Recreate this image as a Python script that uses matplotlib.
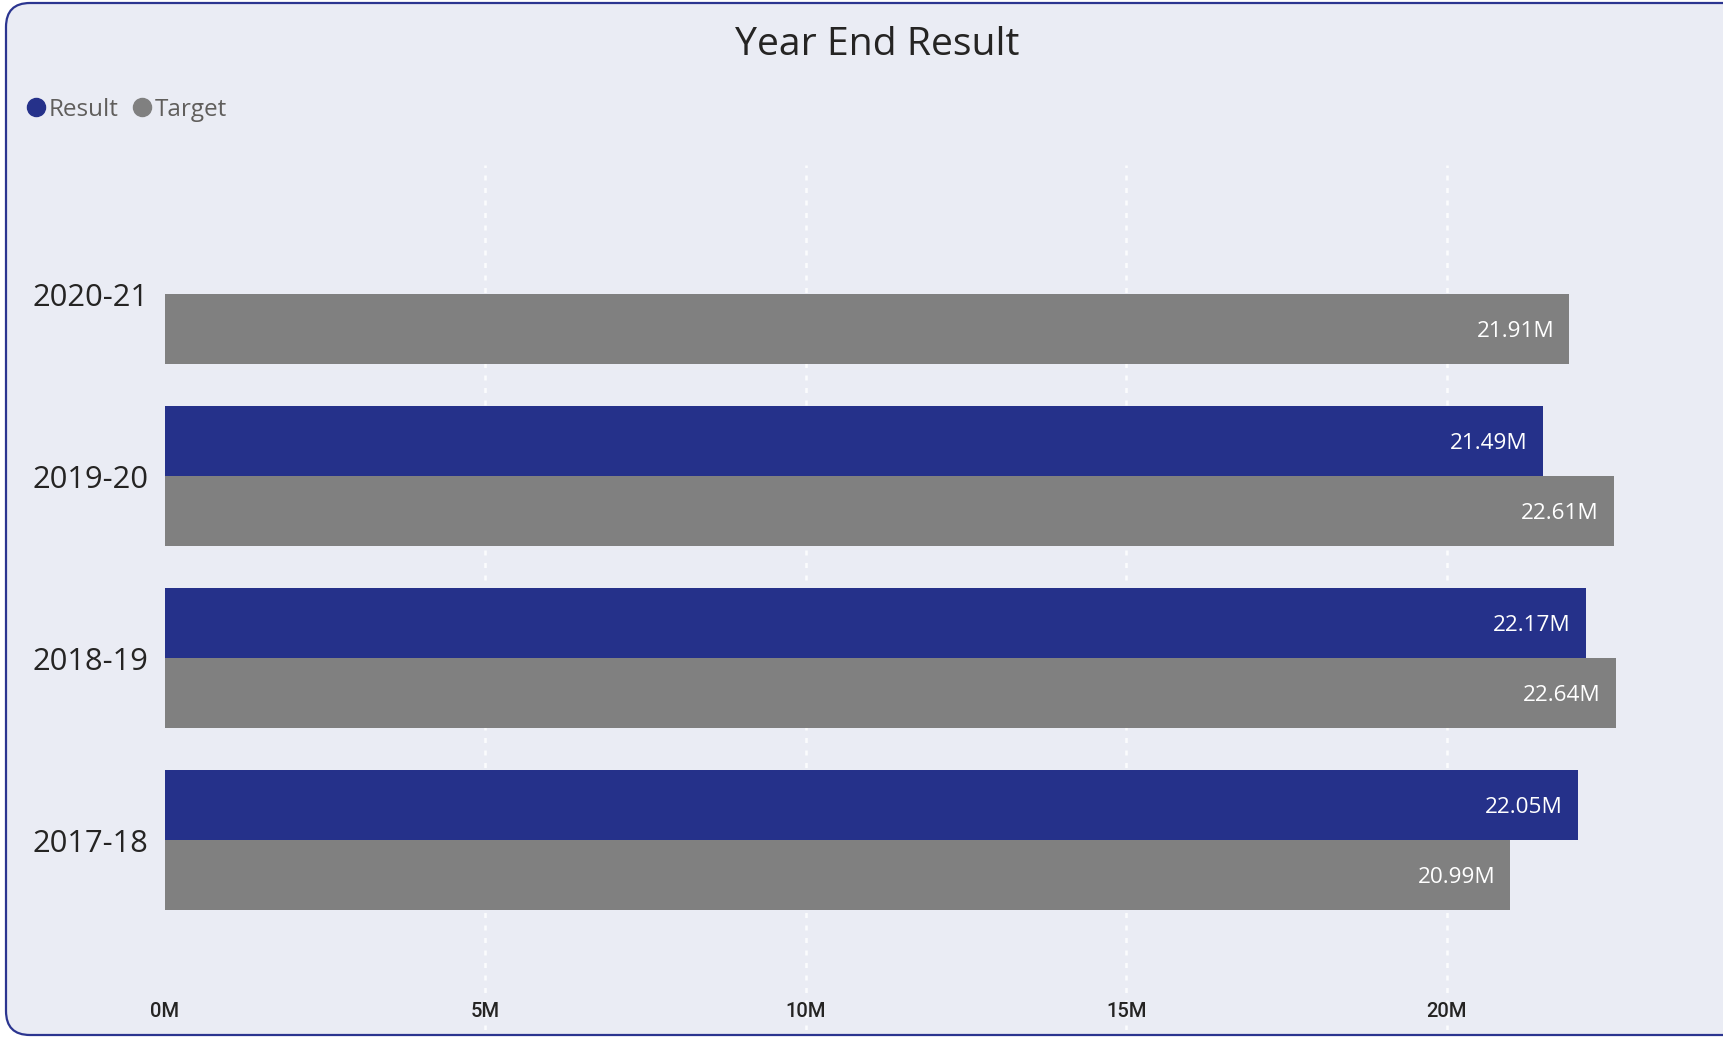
import matplotlib.pyplot as plt
import numpy as np
from matplotlib.patches import FancyBboxPatch
from matplotlib.lines import Line2D
from matplotlib.transforms import IdentityTransform

# data (millions)
years = ['2017-18', '2018-19', '2019-20', '2020-21']
result = [22.05, 22.17, 21.49, np.nan]
target = [20.99, 22.64, 22.61, 21.91]
xticks = [0, 5, 10, 15, 20]
xtick_labels = ['0M', '5M', '10M', '15M', '20M']

navy = '#25318A'
grey = '#808080'
bg = '#EAECF4'
dark = '#252423'

W, H = 1724, 1038
fig = plt.figure(figsize=(W / 100, H / 100), dpi=100, facecolor='white')

# card background with rounded border (right side runs off the image)
card = FancyBboxPatch((6, 3), 1780, 1032, boxstyle='round,pad=0,rounding_size=24',
                      transform=IdentityTransform(), facecolor=bg, edgecolor='#2B3590',
                      linewidth=1.6, zorder=-5)
fig.patches.append(card)

# axes placement in pixels
left, right, top, bottom = 165, 1724, 165, 1030
px_per_m = (1447 - 165) / 20
ax = fig.add_axes([left / W, 1 - bottom / H, (right - left) / W, (bottom - top) / H])
ax.set_zorder(2)
ax.set_facecolor('none')
ax.set_xlim(0, (right - left) / px_per_m)
ax.set_ylim(-(bottom - 840) / 182, 3 + (294 - top) / 182)

y = np.arange(len(years))
h = 0.384
ax.barh(y + h / 2, result, height=h, color=navy, zorder=3)
ax.barh(y - h / 2, target, height=h, color=grey, zorder=3)

label_font = dict(family='Open Sans', fontsize=16.2, color='white')
for yi, r, t in zip(y, result, target):
    if not np.isnan(r):
        ax.annotate(f'{r:.2f}M', (r, yi + h / 2), xytext=(-11, -2), textcoords='offset points',
                    ha='right', va='center', zorder=4, **label_font)
    ax.annotate(f'{t:.2f}M', (t, yi - h / 2), xytext=(-11, -2), textcoords='offset points',
                ha='right', va='center', zorder=4, **label_font)

ax.set_yticks(y)
ax.set_yticklabels(years, fontfamily='Open Sans', fontsize=22.2, color=dark)
ax.tick_params(axis='y', length=0, pad=12)

ax.set_xticks(xticks)
ax.set_xticklabels(xtick_labels, fontfamily='Roboto', fontweight='medium', fontsize=14.5, color=dark)
ax.tick_params(axis='x', length=0, pad=-20)

for s in ax.spines.values():
    s.set_visible(False)
for xv in xticks[1:]:
    ax.axvline(xv, color='white', linestyle=(0, (2, 3)), linewidth=1.8, alpha=0.85, zorder=1)

fig.text(877 / W, 1 - 45 / H, 'Year End Result', ha='center', va='center',
         fontfamily='Open Sans', fontsize=28.2, color=dark)

handles = [Line2D([], [], marker='o', linestyle='', markersize=13, color=navy),
           Line2D([], [], marker='o', linestyle='', markersize=13, color=grey)]
leg = fig.legend(handles, ['Result', 'Target'], loc='center left',
                 bbox_to_anchor=(27 / W, 1 - 110 / H), ncol=2, frameon=False,
                 borderpad=0, borderaxespad=0, handlelength=0.7, handletextpad=0.2,
                 columnspacing=0.6, prop={'family': 'Open Sans', 'size': 17.5})
for txt in leg.get_texts():
    txt.set_color('#605E5C')

fig.savefig('out.png', dpi=100, facecolor='white')
